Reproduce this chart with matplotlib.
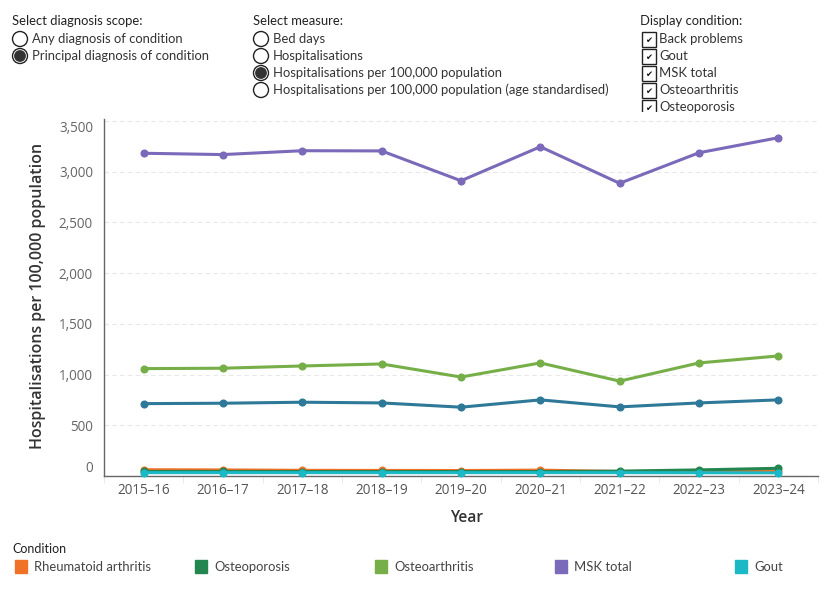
import numpy as np
import matplotlib.pyplot as plt
from matplotlib.patches import Circle, Rectangle

# data
years = ['2015–16', '2016–17', '2017–18', '2018–19', '2019–20',
         '2020–21', '2021–22', '2022–23', '2023–24']
msk_total = [3180, 3167, 3205, 3203, 2909, 3244, 2884, 3185, 3333]
osteoarthritis = [1058, 1062, 1084, 1104, 975, 1114, 935, 1114, 1183]
back_problems = [713, 717, 727, 720, 678, 750, 681, 720, 750]
rheumatoid = [62, 60, 56, 55, 54, 58, 44, 46, 50]
osteoporosis = [45, 45, 44, 44, 44, 44, 48, 60, 76]
gout = [33, 33, 33, 33, 33, 33, 33, 32, 31]
yticks = [0, 500, 1000, 1500, 2000, 2500, 3000, 3500]

legend_names = ['Rheumatoid arthritis', 'Osteoporosis', 'Osteoarthritis', 'MSK total', 'Gout']
scope_opts = ['Any diagnosis of condition', 'Principal diagnosis of condition']
measure_opts = ['Bed days', 'Hospitalisations', 'Hospitalisations per 100,000 population',
                'Hospitalisations per 100,000 population (age standardised)']
cond_opts = ['Back problems', 'Gout', 'MSK total', 'Osteoarthritis', 'Osteoporosis']

colors = {'MSK total': '#7b69b9', 'Osteoarthritis': '#76ae48', 'Back problems': '#2e7898',
          'Rheumatoid arthritis': '#f07128', 'Osteoporosis': '#23864f', 'Gout': '#1bb8c5'}

W, H = 830, 600
plt.rcParams['font.family'] = ['Lato', 'DejaVu Sans']
fig = plt.figure(figsize=(W / 100, H / 100), dpi=100)


def fx(px):
    return px / W


def fy(py):
    return 1 - py / H


def pt(px):
    return px * 0.72


# main chart
ax = fig.add_axes([fx(104), fy(476), fx(818 - 104), (476 - 119) / H])
x = np.arange(len(years))
series = [('Back problems', back_problems), ('Osteoarthritis', osteoarthritis),
          ('MSK total', msk_total), ('Rheumatoid arthritis', rheumatoid),
          ('Osteoporosis', osteoporosis), ('Gout', gout)]
for name, vals in series:
    ax.plot(x, vals, color=colors[name], lw=2.2, marker='o', ms=4.8,
            solid_capstyle='round', clip_on=False, zorder=3)

ax.set_xlim(-0.5, 8.5)
ax.set_ylim(0, 3500 * 1.005)
ax.set_xticks(x)
ax.set_xticklabels(years, fontsize=pt(13.5), color='#555555', family=['Open Sans', 'DejaVu Sans'])
ax.set_xticks(np.arange(-0.5, 9, 1), minor=True)
ax.tick_params(axis='x', which='major', length=0, pad=5)
ax.tick_params(axis='x', which='minor', length=5, color='#e6e6e6')
ax.set_yticks(yticks)
ax.set_yticklabels([f'{v:,}' for v in yticks], fontsize=pt(13.5), color='#666666',
                   family=['Open Sans', 'DejaVu Sans'])
ax.tick_params(axis='y', length=0, pad=8)
labs = ax.get_yticklabels()
labs[0].set_va('bottom')
labs[-1].set_va('top')
ax.grid(axis='y', color='#e8e8e8', lw=0.8, ls=(0, (4, 3)))
ax.set_axisbelow(True)
for s in ['top', 'right']:
    ax.spines[s].set_visible(False)
ax.spines['left'].set_color('#666666')
ax.spines['bottom'].set_color('#666666')
ax.spines['left'].set_linewidth(1.0)
ax.spines['bottom'].set_linewidth(1.0)

fig.text(fx(38), fy(296), 'Hospitalisations per 100,000 population', rotation=90,
         ha='center', va='center', fontsize=pt(16), fontweight='semibold', color='#333333',
         family=['Open Sans', 'DejaVu Sans'])
fig.text(fx(467), fy(518), 'Year', ha='center', va='center', fontsize=pt(15.5),
         fontweight='semibold', color='#333333', family=['Open Sans', 'DejaVu Sans'])

# controls on top
ov = fig.add_axes([0, 0, 1, 1])
ov.set_xlim(0, W)
ov.set_ylim(H, 0)
ov.axis('off')
ov.set_zorder(-1)

tcol = '#333333'
fs_ctrl = pt(13)
ov.text(12, 21, 'Select diagnosis scope:', fontsize=fs_ctrl, color='#222222', va='center')
ov.text(253, 21, 'Select measure:', fontsize=fs_ctrl, color='#222222', va='center')
ov.text(640, 21, 'Display condition:', fontsize=fs_ctrl, color='#222222', va='center')


def radio(cx, cy, on):
    ov.add_patch(Circle((cx, cy), 7.5, fill=False, ec='#222222', lw=1.0))
    if on:
        ov.add_patch(Circle((cx, cy), 5.2, color='#333333'))


for i, t in enumerate(scope_opts):
    cy = 39 + i * 17
    radio(20, cy, i == 1)
    ov.text(32, cy, t, fontsize=fs_ctrl, color=tcol, va='center')

for i, t in enumerate(measure_opts):
    cy = 39 + i * 17
    radio(261, cy, i == 2)
    ov.text(273, cy, t, fontsize=fs_ctrl, color=tcol, va='center')

clip = Rectangle((630, 28), 200, 84, transform=ov.transData)
for i, t in enumerate(cond_opts):
    cy = 39 + i * 17
    box = Rectangle((641.5, cy - 7.5), 14, 15, fill=False, ec='#222222', lw=1.0)
    ov.add_patch(box)
    box.set_clip_path(clip)
    ck = ov.text(648.5, cy + 1.5, '✔', fontsize=pt(8.5), color='#111111', ha='center',
                 va='center', family='DejaVu Sans')
    ck.set_clip_path(clip)
    tx = ov.text(659, cy, t, fontsize=fs_ctrl, color=tcol, va='center')
    tx.set_clip_path(clip)

# legend at bottom
ov.text(12, 549, 'Condition', fontsize=pt(12.5), color='#222222', va='center')
for i, name in enumerate(legend_names):
    lx = 15 + i * 180
    ov.add_patch(Rectangle((lx, 560), 12, 13, color=colors[name]))
    ov.text(lx + 19, 567, name, fontsize=pt(13), color='#444444', va='center')

fig.savefig('out.png', dpi=100)
